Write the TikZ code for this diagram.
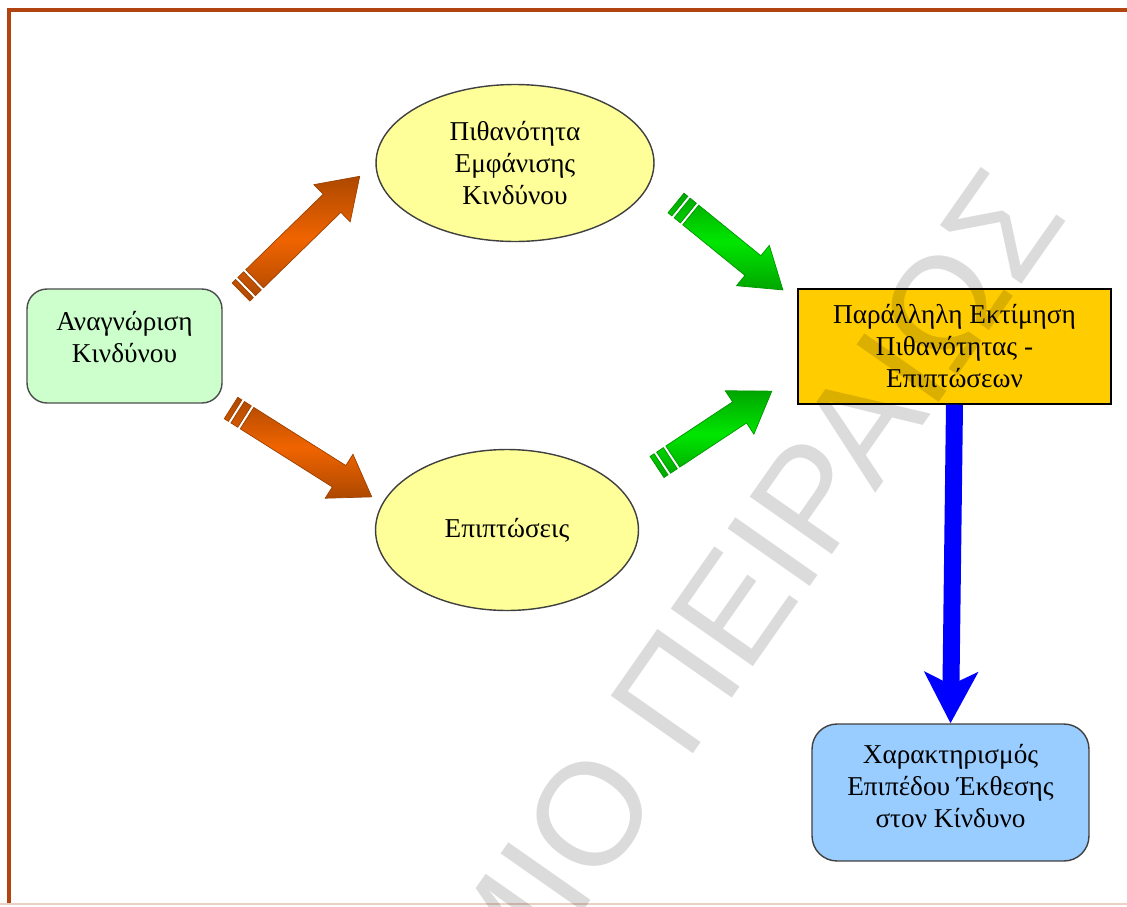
\documentclass[tikz,border=0pt]{standalone}
\usepackage{fontspec}
\setmainfont{Liberation Serif}
\newfontfamily\wmfont{Liberation Sans}
\usetikzlibrary{arrows.meta,shapes.geometric,calc}

\definecolor{framebrown}{RGB}{178,68,18}
\definecolor{idgreen}{RGB}{204,255,204}
\definecolor{ellyellow}{RGB}{255,255,153}
\definecolor{evalorange}{RGB}{255,204,0}
\definecolor{lvlblue}{RGB}{153,204,255}
\definecolor{arrorange}{RGB}{240,100,0}
\definecolor{arrgreen}{RGB}{0,230,0}

% block arrow with two stripes at its tail: tail, tip, colour
\newcommand\stripearrow[3]{%
  \path let \p1=($(#2)-(#1)$) in \pgfextra{%
    \pgfmathsetmacro\arrang{atan2(\y1,\x1)}%
    \pgfmathsetmacro\arrlen{veclen(\x1,\y1)}%
    \pgfmathsetmacro\arrbase{\arrlen-22}%
    \global\let\arrang\arrang\global\let\arrlen\arrlen\global\let\arrbase\arrbase};
  \begin{scope}[shift={(#1)},rotate=\arrang,x=1pt,y=1pt]
    \shade[top color=#3!72!black,bottom color=#3!72!black,middle color=#3,
           draw=#3!65!black,line width=0.4pt]
      (0,-7.2) rectangle (2.8,7.2)
      (4.5,-7.2) rectangle (9.1,7.2)
      (10.8,-7.2) -- (\arrbase,-7.2) -- (\arrbase,-14.8) -- (\arrlen,0)
        -- (\arrbase,14.8) -- (\arrbase,7.2) -- (10.8,7.2) -- cycle;
  \end{scope}}

\begin{document}
\begin{tikzpicture}[x=0.02cm,y=-0.02cm,
  every node/.style={font=\fontsize{15.5}{18.2}\selectfont,align=center},
  idbox/.style={draw=black!70,line width=0.8pt,fill=idgreen,rounded corners=0.4cm,
    minimum width=3.9cm,minimum height=2.28cm,text depth=0.36cm},
  ellnode/.style={ellipse,draw=black!75,line width=0.8pt,fill=ellyellow,inner sep=0pt},
  evalbox/.style={draw=black,line width=0.8pt,fill=evalorange,
    minimum width=6.26cm,minimum height=2.3cm},
  lvlbox/.style={draw=black!75,line width=0.8pt,fill=lvlblue,rounded corners=0.5cm,
    minimum width=5.54cm,minimum height=2.74cm,text depth=0.26cm}]
  \clip (0,0) rectangle (1127,907);
  \fill[white] (0,0) rectangle (1127,907);

  % frame
  \draw[framebrown,line width=0.07cm] (1127,10) -- (9,10) -- (9,903);
  \draw[framebrown!25,line width=0.04cm] (0,904) -- (1127,904);

  % nodes
  \node[idbox] (ident) at (124.5,346) {Αναγνώριση\\Κινδύνου};
  \node[ellnode,minimum width=5.56cm,minimum height=3.14cm] (prob) at (515,163)
    {Πιθανότητα\\Εμφάνισης\\Κινδύνου};
  \node[ellnode,minimum width=5.26cm,minimum height=3.22cm] (impact) at (507,530)
    {Επιπτώσεις};
  \node[evalbox] (eval) at (954.5,346.5) {Παράλληλη Εκτίμηση\\Πιθανότητας -\\Επιπτώσεων};
  \node[lvlbox] (level) at (950.5,792.5) {Χαρακτηρισμός\\Επιπέδου Έκθεσης\\στον Κίνδυνο};

  % arrow ends
  \coordinate (o1s) at (241,292);
  \coordinate (o1e) at (360,176);
  \coordinate (o2s) at (231,408);
  \coordinate (o2e) at (372,497);
  \coordinate (g1s) at (676,203);
  \coordinate (g1e) at (783,290);
  \coordinate (g2s) at (657,467);
  \coordinate (g2e) at (772,391);

  \stripearrow{o1s}{o1e}{arrorange}
  \stripearrow{o2s}{o2e}{arrorange}
  \stripearrow{g1s}{g1e}{arrgreen}
  \stripearrow{g2s}{g2e}{arrgreen}

  \draw[-{Stealth[length=1.02cm,width=1.06cm,inset=0.25cm]},blue,line width=0.34cm]
    (eval.south) -- (level.north);

  % watermark
  \node[font=\wmfont\fontsize{83}{83}\selectfont,text=black,text opacity=0.14,
    inner sep=0pt,rotate=55,anchor=east] (wm) at (1028,188) {ΠΑΝΕΠΙΣΤΗΜΙΟ ΠΕΙΡΑΙΩΣ};
\end{tikzpicture}
\end{document}
